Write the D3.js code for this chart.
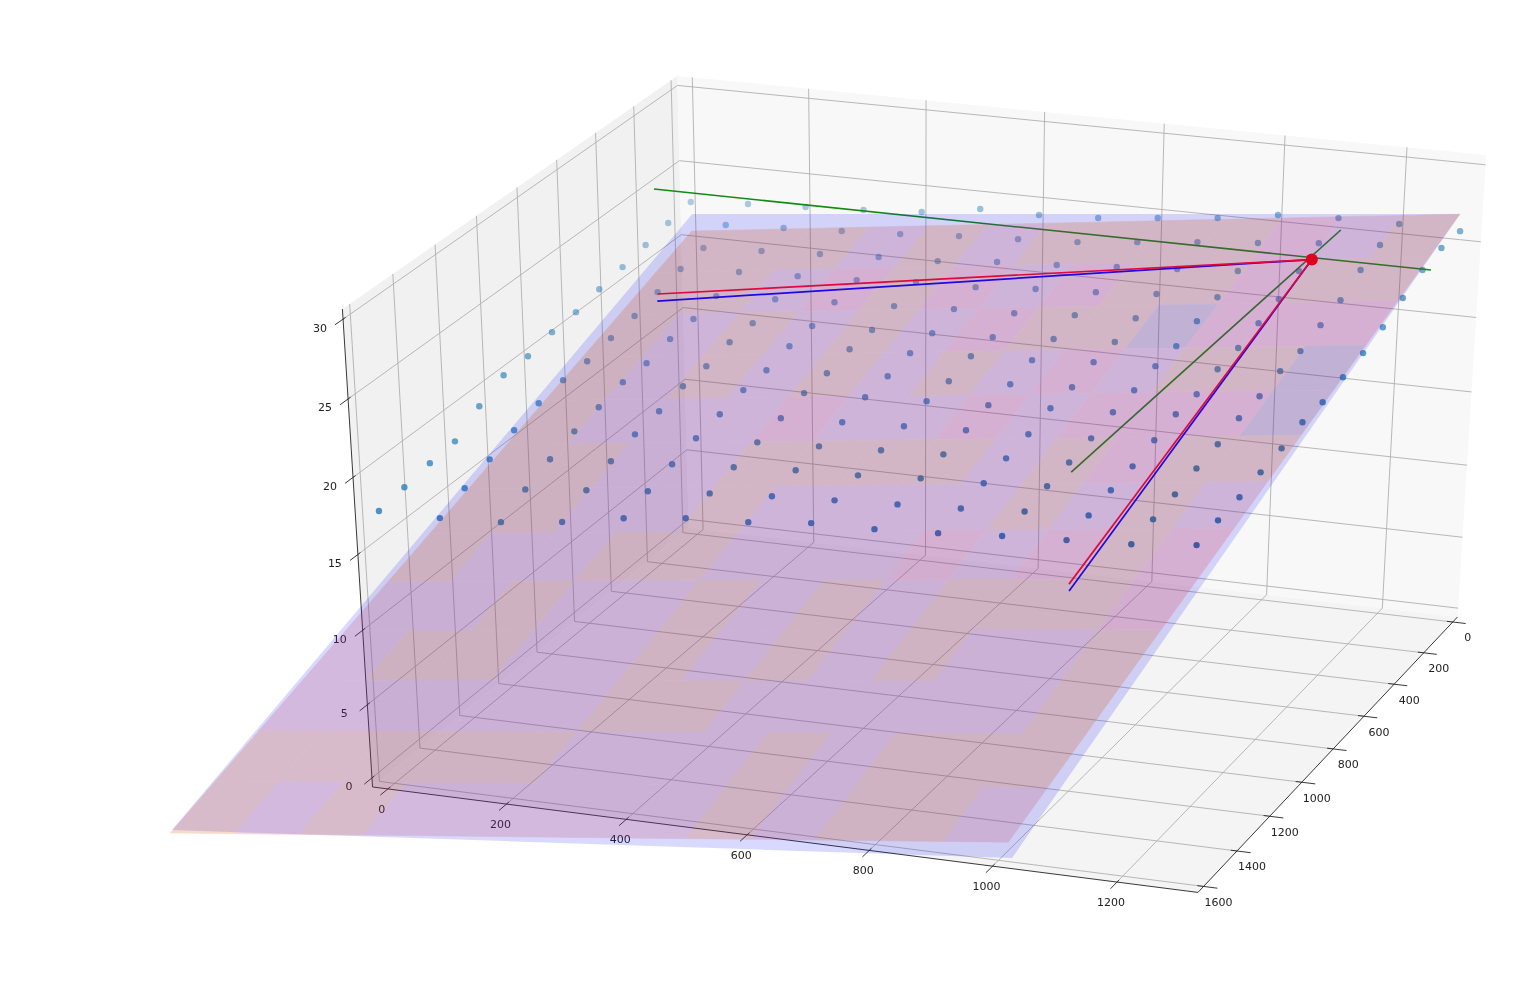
<!DOCTYPE html>
<html><head><meta charset="utf-8"><style>
html,body{margin:0;background:#fff}
svg{display:block;filter:blur(.45px)}
text{font-family:"DejaVu Sans",sans-serif;font-size:11px;fill:#222;text-anchor:middle}
</style></head><body>
<svg id="c" width="1538" height="982"></svg>
<script src="https://cdn.jsdelivr.net/npm/d3@7"></script>
<script>
// axis limits and ticks
const xLim=[-26,1329], yLim=[-33.3,1633.3], zLim=[-0.625,30.625];
const xTicks=[0,200,400,600,800,1000,1200];
const yTicks=[0,200,400,600,800,1000,1200,1400,1600];
const zTicks=[0,5,10,15,20,25,30];
// scattered grid points: x, y positions and heights (rows far to near)
const gridX=[-1,99,199,299,399,499,599,699,799,899,999,1099,1199,1299];
const gridY=[-12,112,235,359,483,606,730,854,977,1101,1225,1348,1472,1594];
const gridZ=[
[22.51,22.77,22.97,23.16,23.43,24.03,24.03,24.23,24.63,25.02,25.62,25.82,25.83,25.77],
[22.21,22.48,22.68,22.88,23.08,23.35,23.55,23.76,24.16,24.57,24.91,25.31,25.59,25.80],
[21.86,22.06,22.27,22.47,22.68,22.82,23.17,23.38,23.66,23.93,24.21,24.62,25.10,25.51],
[21.52,21.80,22.01,22.15,22.30,22.58,22.66,22.95,23.16,23.45,23.66,23.95,24.30,24.85],
[21.20,21.42,21.57,21.78,22.00,22.16,22.38,22.53,22.82,23.04,23.27,23.56,23.85,24.14],
[20.83,20.99,21.21,21.36,21.59,21.75,21.97,22.13,22.43,22.66,22.82,23.12,23.35,23.65],
[20.68,20.71,21.07,21.29,21.45,21.68,21.85,22.08,22.25,22.55,22.72,22.95,23.26,23.30],
[20.28,20.38,20.68,20.91,21.08,21.31,21.55,21.65,21.89,22.13,22.37,22.55,22.86,22.91],
[20.22,20.33,20.63,20.80,20.98,21.22,21.39,21.57,21.75,21.99,22.17,22.48,22.67,22.85],
[19.40,20.03,20.21,20.39,20.63,20.81,20.99,21.18,21.36,21.55,21.73,22.05,22.24,22.43],
[18.33,19.50,19.87,20.12,20.31,20.49,20.68,20.87,21.06,21.25,21.44,21.64,21.96,22.16],
[18.14,18.84,19.29,19.61,19.87,20.13,20.38,20.51,20.77,20.91,21.17,21.37,21.57,21.84],
[17.83,18.22,18.60,19.00,19.39,19.71,19.98,20.18,20.38,20.58,20.85,21.06,21.27,21.67],
[17.54,17.54,17.74,18.21,18.92,19.38,19.59,19.99,20.07,20.28,20.56,20.77,20.98,21.39]];
// fitted planes: corners [far-left, far-right, near-left, near-right] as x,y,z
const bluePlane=[[73,210,24],[1231,-301,24],[6,2599,8],[1197,2219,8]];
const pinkPlane=[[107,320,24],[1231,-301,24],[9,2614,8],[1170,2145,8]];
// tone of each facet of the pink surface, rows far to near
const facetTones=[
"BBBLBLBBBBMLB","BBLMBMLMBBMBB","BLBLBLMBBVMMM","BLBLBLBLMLBBV","BLLLMLLMLMMMV",
"BBLLBBBBLBMBB","BBLLBLLLLBLBL","BLLBBLLLMLMBM","LLBLLBLBLBBBM","LBBLLBLBLBLLB",
"LLLLLBBLLLLLB","BBBBBLLLBLBBB","BLBLLLLLBLBBL"];
const toneColor={L:"rgb(190,60,90)",B:"rgb(210,70,0)",M:"rgb(225,40,60)",V:"rgb(125,50,75)"};
// lines through the marked point
const markPoint=[1084,93,24];
const greenLines=[[[-37,73,24],[1277,82,24]],[[1078,-117,24],[1079,1502,24]]];
const redLines=[[[182,735,24],markPoint],[[1242,2094,24],markPoint]];
const blueLines=[[[195,778,24],markPoint],[[1252,2129,24],markPoint]];

// camera: homogeneous projection of scaled data coordinates
const camera=[[537.0958,-207.7923,-14.2547,697.0257],[52.3379,119.0220,-146.2648,525.7296],[-0.0220,-0.0469,-0.0156,1]];
const sx=d3.scaleLinear().domain([0,1000]).range([0,1]);
const sy=d3.scaleLinear().domain([0,1000]).range([0,1]);
const sz=d3.scaleLinear().domain([0,10]).range([0,1]);
const hom=([x,y,z])=>{const v=[sx(x),sy(y),sz(z),1];return camera.map(r=>d3.sum(r,(c,i)=>c*v[i]));};
const proj=p=>{const h=hom(p);return [h[0]/h[2],h[1]/h[2]];};
const depth=p=>hom(p)[2];

const svg=d3.select("#c");
const line=d3.line();
const path3=(g,pts,attrs)=>{const e=g.append("path").attr("d",line(pts.map(proj))).attr("fill","none");Object.entries(attrs).forEach(([k,v])=>e.attr(k,v));return e;};
const poly=(g,pts,fill)=>g.append("path").attr("d",line(pts.map(proj))+"Z").attr("fill",fill);

// panes
const [x0,x1]=xLim,[y0,y1]=yLim,[z0,z1]=zLim;
const panes=svg.append("g");
poly(panes,[[x0,y0,z0],[x0,y1,z0],[x0,y1,z1],[x0,y0,z1]],"#f1f1f1");
poly(panes,[[x0,y0,z0],[x1,y0,z0],[x1,y0,z1],[x0,y0,z1]],"#f8f8f8");
poly(panes,[[x0,y0,z0],[x1,y0,z0],[x1,y1,z0],[x0,y1,z0]],"#f4f4f4");

// grid
const gridG=svg.append("g");
const gs={stroke:"#b0b0b0","stroke-width":.9};
xTicks.forEach(t=>path3(gridG,[[t,y1,z0],[t,y0,z0],[t,y0,z1]],gs));
yTicks.forEach(t=>path3(gridG,[[x1,t,z0],[x0,t,z0],[x0,t,z1]],gs));
zTicks.forEach(t=>path3(gridG,[[x0,y1,t],[x0,y0,t],[x1,y0,t]],gs));

// axes, ticks, labels
const ax=svg.append("g");
const as={stroke:"#222","stroke-width":.9};
path3(ax,[[x0,y1,z1],[x0,y1,z0],[x1,y1,z0],[x1,y0,z0]],as);
const label=(p,dx,dy,t)=>{const q=proj(p);ax.append("text").attr("x",q[0]+dx).attr("y",q[1]+dy).attr("dy",".35em").text(t);};
xTicks.forEach(t=>{path3(ax,[[t,y1+37,z0],[t,y1-12,z0]],as);label([t,y1,z0],-6,20,t);});
yTicks.forEach(t=>{path3(ax,[[x1+22,t,z0],[x1-10,t,z0]],as);label([x1,t,z0],15,15.5,t);});
zTicks.forEach(t=>{path3(ax,[[x0,y1+37,t],[x0,y1-12,t]],as);label([x0,y1,t],-23,8.5,t);});

// scatter with depth shading
const dots=gridZ.flatMap((row,r)=>row.map((z,c)=>[gridX[c],gridY[r],z]));
const alpha=d3.scaleLinear().domain(d3.extent(dots,depth)).range([1,.35]);
svg.append("g").selectAll("circle").data(dots).join("circle")
 .attr("cx",d=>proj(d)[0]).attr("cy",d=>proj(d)[1]).attr("r",3.2)
 .attr("fill","#1f77b4").attr("fill-opacity",d=>alpha(depth(d)));

// green lines lie beneath the planes
const gl=svg.append("g");
greenLines.forEach(l=>path3(gl,l,{stroke:"#148a14","stroke-width":1.6}));

// planes
const u=d3.scaleLinear().domain([0,13]).range([0,1]);
const v=d3.scaleLinear().domain([0,7,13]).range([0,.525,1]);
const bilerp=(c,a,b)=>[0,1,2].map(i=>d3.interpolateNumber(d3.interpolateNumber(c[0][i],c[1][i])(a),d3.interpolateNumber(c[2][i],c[3][i])(a))(b));
poly(svg.append("g"),[bluePlane[0],bluePlane[1],bluePlane[3],bluePlane[2]],"rgb(0,0,255)").attr("fill-opacity",.15);
const tiles=svg.append("g").attr("opacity",.2);
facetTones.forEach((row,r)=>[...row].forEach((t,c)=>{
  const pts=[[c,r],[c+1,r],[c+1,r+1],[c,r+1]].map(([a,b])=>bilerp(pinkPlane,u(a),v(b)));
  poly(tiles,pts,toneColor[t]).attr("stroke",toneColor[t]).attr("stroke-width",.6);
}));

// red and blue lines, marked point
const overlay=svg.append("g");
blueLines.forEach(l=>path3(overlay,l,{stroke:"#2008e0","stroke-width":1.7}));
redLines.forEach(l=>path3(overlay,l,{stroke:"#e0083c","stroke-width":1.7}));
overlay.append("circle").attr("cx",proj(markPoint)[0]).attr("cy",proj(markPoint)[1]).attr("r",6).attr("fill","#e0001e");
</script></body></html>
